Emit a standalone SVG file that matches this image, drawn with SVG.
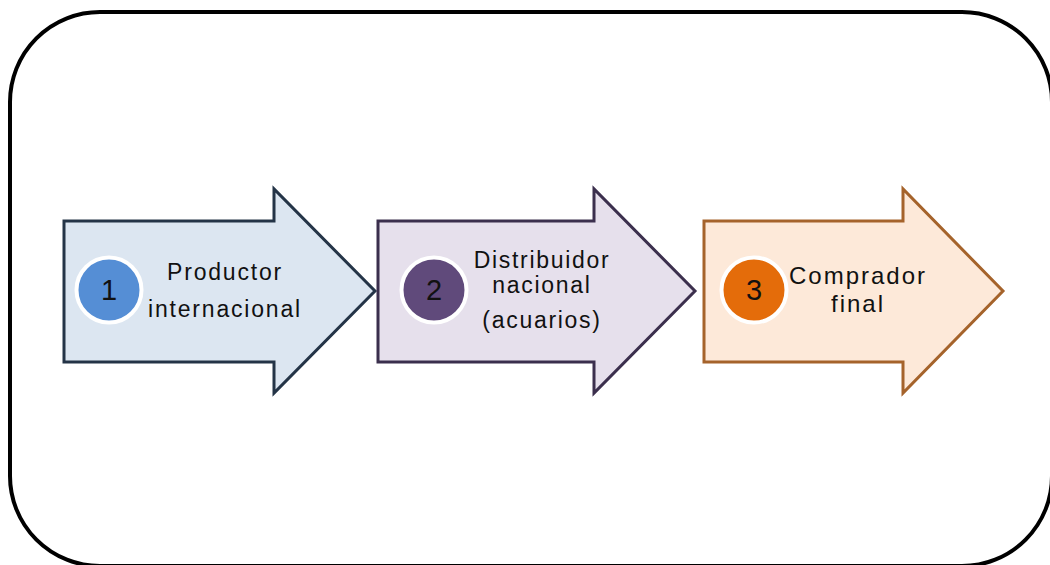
<svg xmlns="http://www.w3.org/2000/svg" width="1050" height="565" viewBox="0 0 1050 565">
  <style>
    .arrow { stroke-width: 3; stroke-linejoin: miter; }
    .badge { stroke: #ffffff; stroke-width: 4; }
    .num { font-family: "Liberation Sans", Arial, sans-serif; font-size: 29px; fill: #111111; text-anchor: middle; }
    .label { font-family: "Liberation Sans", Arial, sans-serif; font-size: 23px; fill: #111111; text-anchor: middle; letter-spacing: 1.8px; }
  </style>

  <rect width="1050" height="565" fill="#ffffff"/>

  <!-- outer frame -->
  <rect x="10" y="12" width="1042" height="554" rx="90" ry="90" fill="none" stroke="#000000" stroke-width="4"/>

  <g id="connectors"></g>

  <g id="step1">
    <path class="arrow" d="M64,221 H274 V189 L375,291 L274,393 V362 H64 Z" fill="#dce6f1" stroke="#243447"/>
    <circle class="badge" cx="109" cy="290" r="32.5" fill="#558ed5"/>
    <text class="num" x="109" y="300">1</text>
    <text class="label" x="225" y="280">Productor</text>
    <text class="label" x="225" y="317">internacional</text>
  </g>

  <g id="step2">
    <path class="arrow" d="M378,221 H594 V189 L695,291 L594,393 V362 H378 Z" fill="#e6e0ec" stroke="#3b2f4d"/>
    <circle class="badge" cx="434" cy="290" r="32.5" fill="#604a7b"/>
    <text class="num" x="434" y="300">2</text>
    <text class="label" x="542" y="268" style="letter-spacing:1.7px">Distribuidor</text>
    <text class="label" x="542" y="293" style="letter-spacing:1.7px">nacional</text>
    <text class="label" x="542" y="328" style="letter-spacing:1.7px">(acuarios)</text>
  </g>

  <g id="step3">
    <path class="arrow" d="M704,221 H903 V189 L1003,291 L903,393 V362 H704 Z" fill="#fde9d9" stroke="#a5632b"/>
    <circle class="badge" cx="754" cy="290" r="32.5" fill="#e46c0a"/>
    <text class="num" x="754" y="300">3</text>
    <text class="label" x="858" y="284" style="font-size:24px;letter-spacing:2px">Comprador</text>
    <text class="label" x="858" y="312" style="font-size:24px;letter-spacing:2px">final</text>
  </g>
</svg>
